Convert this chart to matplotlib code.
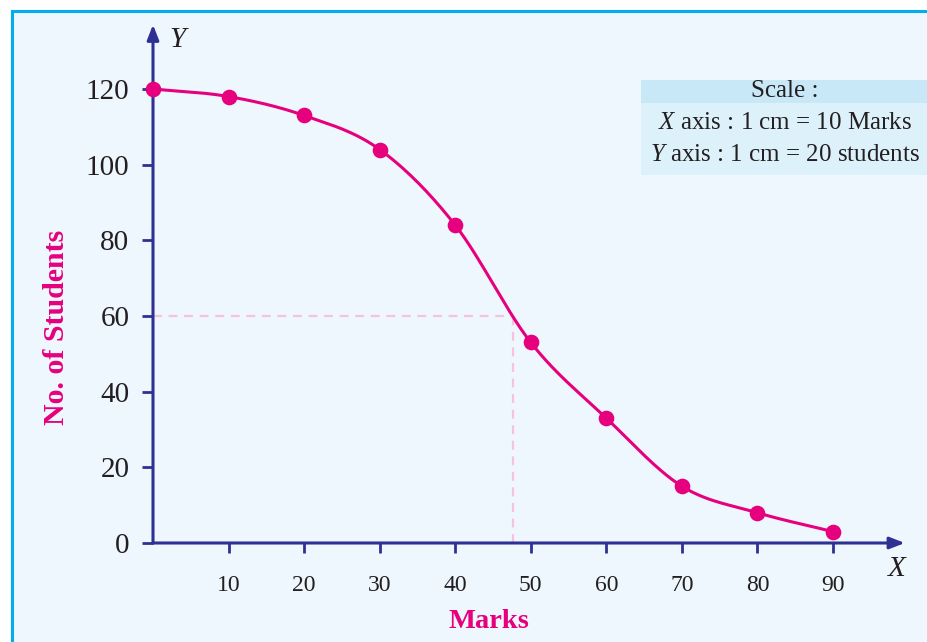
import numpy as np
import matplotlib.pyplot as plt
from matplotlib.patches import Rectangle

marks = [0, 10, 20, 30, 40, 50, 60, 70, 80, 90]
students = [120, 118, 113, 104, 84, 53, 33, 15, 8, 3]
xticks = [10, 20, 30, 40, 50, 60, 70, 80, 90]
yticks = [0, 20, 40, 60, 80, 100, 120]
median_x = 47.6
median_y = 60

NAVY = '#2E3192'
PINK = '#E6007E'
plt.rcParams['font.family'] = ['Liberation Serif', 'DejaVu Serif']
plt.rcParams['mathtext.fontset'] = 'custom'
plt.rcParams['mathtext.it'] = 'Liberation Serif:italic'
plt.rcParams['mathtext.rm'] = 'Liberation Serif'

fig = plt.figure(figsize=(9.27, 6.42), dpi=100)
fig.patch.set_facecolor('white')

# background panel with cyan border (left and top visible)
fig.patches.append(Rectangle((12 / 927, -0.01), 1.0, (642 - 11) / 642 + 0.01,
                             transform=fig.transFigure, facecolor='#EEF7FD',
                             edgecolor='#00AEEF', linewidth=2.2, zorder=-2))

# scale box
fig.patches.append(Rectangle((641 / 927, 1 - 103 / 642), 0.4, 23 / 642,
                             transform=fig.transFigure, facecolor='#C8E8F8',
                             edgecolor='none', zorder=-1))
fig.patches.append(Rectangle((641 / 927, 1 - 175 / 642), 0.4, 72 / 642,
                             transform=fig.transFigure, facecolor='#DDF1FB',
                             edgecolor='none', zorder=-1))

ax = fig.add_axes([153 / 927, 99 / 642, 755.6 / 927, 529.7 / 642])
ax.set_zorder(5)
ax.set_xlim(0, 100)
ax.set_ylim(0, 140)
ax.patch.set_alpha(0)
for s in ax.spines.values():
    s.set_visible(False)

# axes with arrows
ax.annotate('', xy=(99.5, 0), xytext=(0, 0), annotation_clip=False,
            arrowprops=dict(arrowstyle='-|>,head_length=0.9,head_width=0.35',
                            color=NAVY, lw=2.2, shrinkA=0, shrinkB=0))
ax.annotate('', xy=(0, 137), xytext=(0, 0), annotation_clip=False,
            arrowprops=dict(arrowstyle='-|>,head_length=0.9,head_width=0.35',
                            color=NAVY, lw=2.2, shrinkA=0, shrinkB=0))

ax.set_xticks(xticks)
ax.set_yticks(yticks)
ax.tick_params(axis='x', direction='out', length=7, width=2, color=NAVY,
               pad=16, labelsize=17, labelcolor='#231F20')
ax.tick_params(axis='y', direction='out', length=8, width=2, color=NAVY,
               pad=9, labelsize=21, labelcolor='#231F20')

# median guide lines
ax.plot([0, median_x], [median_y, median_y], color='#F7C3DC', lw=1.6,
        dashes=(4, 3), zorder=2)
ax.plot([median_x, median_x], [0, median_y], color='#F7C3DC', lw=1.6,
        dashes=(4, 3), zorder=2)

# smooth curve through the points (Catmull-Rom)
px = np.array(marks, dtype=float)
py = np.array(students, dtype=float)
P = np.column_stack([px, py])
P = np.vstack([2 * P[0] - P[1], P, 2 * P[-1] - P[-2]])
cx, cy = [], []
t = np.linspace(0, 1, 30)[:, None]
for i in range(1, len(P) - 2):
    p0, p1, p2, p3 = P[i - 1], P[i], P[i + 1], P[i + 2]
    seg = 0.5 * ((2 * p1) + (-p0 + p2) * t + (2 * p0 - 5 * p1 + 4 * p2 - p3) * t ** 2
                 + (-p0 + 3 * p1 - 3 * p2 + p3) * t ** 3)
    cx.extend(seg[:, 0])
    cy.extend(seg[:, 1])
ax.plot(cx, cy, color=PINK, lw=2.2, zorder=3, clip_on=False)
ax.scatter(marks, students, s=105, color=PINK, zorder=4, clip_on=False)

# axis letters
ax.text(3.3, 133, 'Y', fontsize=21, style='italic', color='#231F20',
        ha='center', va='center')
ax.text(98.5, -7, 'X', fontsize=21, style='italic', color='#231F20',
        ha='center', va='center')

fig.text(489 / 927, 1 - 621 / 642, 'Marks', fontsize=20.5, fontweight='bold',
         color=PINK, ha='center', va='center')
fig.text(57 / 927, 1 - 327 / 642, 'No. of Students', fontsize=21.5,
         fontweight='bold', color=PINK, ha='center', va='center', rotation=90)

fig.text(785 / 927, 1 - 91 / 642, 'Scale :', fontsize=18, color='#231F20',
         ha='center', va='center')
fig.text(785 / 927, 1 - 123 / 642, r'$\it{X}$ axis : 1 cm = 10 Marks',
         fontsize=18, color='#231F20', ha='center', va='center')
fig.text(785 / 927, 1 - 155 / 642, r'$\it{Y}$ axis : 1 cm = 20 students',
         fontsize=18, color='#231F20', ha='center', va='center')

fig.savefig('out.png', dpi=100)
